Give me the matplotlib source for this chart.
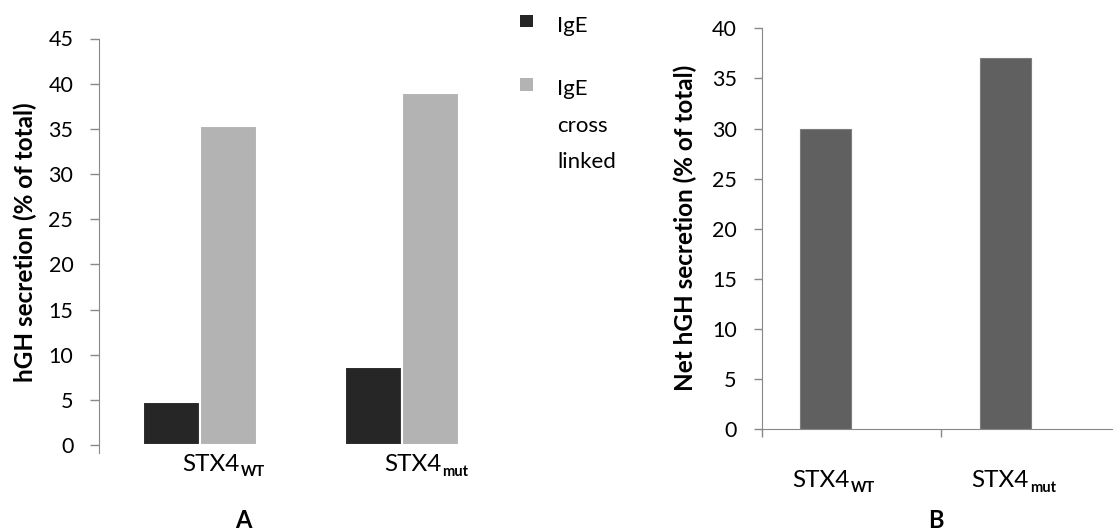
import matplotlib.pyplot as plt
from matplotlib.patches import Rectangle

plt.rcParams['font.family'] = ['Lato', 'DejaVu Sans']

W, H = 1113, 531

categories = ["STX4", "STX4"]
subscripts = ["WT", "mut"]
ige = [4.8, 8.65]
ige_cross = [35.3, 38.95]
net = [30.0, 37.0]
series_names = ["IgE", "IgE\ncross\nlinked"]
colors = ["#262626", "#b3b3b3"]
net_color = "#606060"
axis_col = "#888888"


def fx(px):
    return px / W


def fy(py):
    return 1 - py / H


def cat_label(ax, xpos, main, sub, ypos):
    t = ax.text(xpos, ypos, main, ha="left", va="baseline", fontsize=17.5,
                transform=ax.get_xaxis_transform())
    ax.annotate(sub, xy=(1, 0), xycoords=t, xytext=(1, -0.5), textcoords="offset points",
                ha="left", va="baseline", fontsize=10.5, fontweight="bold")


fig = plt.figure(figsize=(W / 100, H / 100), dpi=100)

# ---- panel A
axA = fig.add_axes([fx(99), fy(445), fx(404), (445 - 38.5) / H])
w = 0.28
x = list(range(len(categories)))
axA.bar([i - w / 2 for i in x], ige, w, color=colors[0], edgecolor="white", linewidth=1.5)
axA.bar([i + w / 2 for i in x], ige_cross, w, color=colors[1], edgecolor="white", linewidth=1.5)
axA.set_xlim(-0.5, 1.5)
axA.set_ylim(0, 45)
axA.set_yticks(range(0, 46, 5))
axA.set_xticks([])
for s in ["top", "right", "bottom"]:
    axA.spines[s].set_visible(False)
axA.spines["left"].set_color(axis_col)
axA.spines["left"].set_bounds(-0.85, 45)
axA.tick_params(axis="y", colors=axis_col, labelcolor="black", labelsize=15.5,
                length=6.5, width=1, pad=12)
for i, c in enumerate(categories):
    # labels sit a bit right of the group centre, like the original
    cat_label(axA, i - 0.09, c, subscripts[i], -0.065)
fig.text(fx(25), fy(242), "hGH secretion (% of total)", rotation=90, ha="center", va="center",
         fontsize=17.5, fontweight="bold")

# legend drawn by hand (squares aligned with the first text line)
leg_base = [31.7, 95]
for name, col, yb in zip(series_names, colors, leg_base):
    fig.patches.append(Rectangle((fx(520), fy(yb - 4.5)), fx(12.5), 12.5 / H,
                                 transform=fig.transFigure, facecolor=col, edgecolor="none"))
    for k, line in enumerate(name.split("\n")):
        fig.text(fx(557), fy(yb + k * 36.7), line, ha="left", va="baseline", fontsize=16)

# ---- panel B
axB = fig.add_axes([fx(761.7), fy(429.3), fx(358.6), (429.3 - 28.3) / H])
wb = 0.284
axB.bar([i - wb / 2 for i in x], net, wb, color=net_color, edgecolor="#7d7d7d", linewidth=0.8)
axB.set_xlim(-0.5, 1.5)
axB.set_ylim(0, 40)
axB.set_yticks(range(0, 41, 5))
axB.set_xticks([-0.5, 0.5, 1.5])
axB.set_xticklabels([])
for s in ["top", "right"]:
    axB.spines[s].set_visible(False)
axB.spines["left"].set_color(axis_col)
axB.spines["bottom"].set_color(axis_col)
axB.tick_params(axis="y", colors=axis_col, labelcolor="black", labelsize=15.5,
                length=6, width=1, pad=12)
axB.tick_params(axis="x", colors=axis_col, length=5.5, width=1)
for i, c in enumerate(categories):
    cat_label(axB, i - 0.33, c, subscripts[i], -0.145)
fig.text(fx(685), fy(228), "Net hGH secretion (% of total)", rotation=90, ha="center", va="center",
         fontsize=17.5, fontweight="bold")

fig.text(fx(243), fy(528), "A", ha="center", va="baseline", fontsize=17, fontweight="bold")
fig.text(fx(936), fy(528), "B", ha="center", va="baseline", fontsize=17, fontweight="bold")

fig.savefig("out.png", dpi=100)
